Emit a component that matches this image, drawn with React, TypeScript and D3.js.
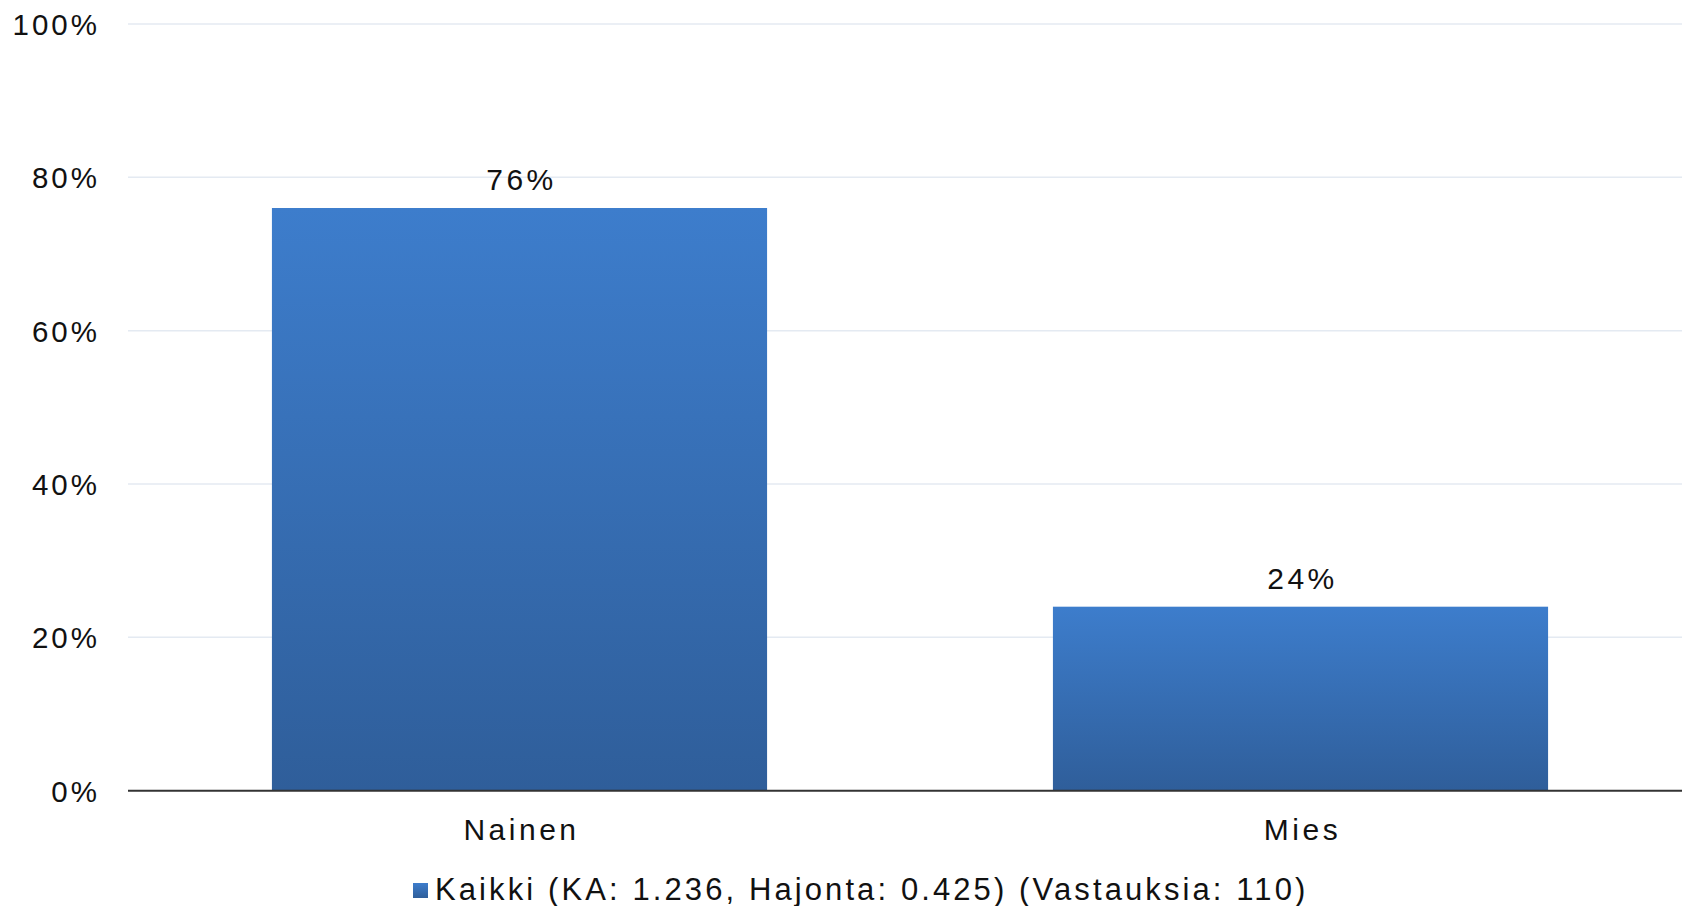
import * as d3 from "d3"

const categories = ["Nainen", "Mies"]
const values = [76, 24]
const yTicks = [0, 20, 40, 60, 80, 100]
const legendLabel = "Kaikki (KA: 1.236, Hajonta: 0.425) (Vastauksia: 110)"

const W = 1682
const H = 906
const FONT = "'Liberation Sans', Arial, sans-serif"

export default function App() {
  const x = d3
    .scaleBand<string>()
    .domain(categories)
    .range([129, 1691])
    .paddingInner(0.366)
    .paddingOuter(0.183)
  const y = d3.scaleLinear().domain([0, 100]).range([790.7, 24])
  const left = 128

  return (
    <svg
      width={W}
      height={H}
      style={{ position: "absolute", left: 0, top: 0, background: "#fff" }}
      fontFamily={FONT}
    >
      <defs>
        <linearGradient id="barFill" x1="0" y1="0" x2="0" y2="1">
          <stop offset="0%" stopColor="#3d7dcc" />
          <stop offset="100%" stopColor="#2f5e9a" />
        </linearGradient>
      </defs>

      {/* grid + y labels */}
      {yTicks.map((t) => (
        <g key={t}>
          {t > 0 && (
            <line x1={left} x2={W} y1={y(t)} y2={y(t)} stroke="#e4eaf2" strokeWidth={1.5} />
          )}
          <text
            x={100}
            y={y(t) + 11}
            textAnchor="end"
            fontSize={29.5}
            letterSpacing={3}
            fill="#111"
          >
            {t}%
          </text>
        </g>
      ))}

      {/* bars */}
      {categories.map((c, i) => {
        const cx = (x(c) || 0) + x.bandwidth() / 2 + 2
        return (
          <g key={c}>
            <rect
              x={x(c)}
              y={y(values[i])}
              width={x.bandwidth()}
              height={y(0) - y(values[i])}
              fill="url(#barFill)"
            />
            <text
              x={cx}
              y={y(values[i]) - 18}
              textAnchor="middle"
              fontSize={30}
              letterSpacing={3.5}
              fill="#111"
            >
              {values[i]}%
            </text>
            <text x={cx} y={840} textAnchor="middle" fontSize={30} letterSpacing={3.5} fill="#111">
              {c}
            </text>
          </g>
        )
      })}

      {/* x axis line */}
      <line x1={left} x2={W} y1={y(0)} y2={y(0)} stroke="#333" strokeWidth={2} />

      {/* legend */}
      <rect x={413} y={883} width={15} height={15} fill="url(#barFill)" />
      <text x={435} y={900} fontSize={31} letterSpacing={3.1} fill="#111">
        {legendLabel}
      </text>
    </svg>
  )
}
